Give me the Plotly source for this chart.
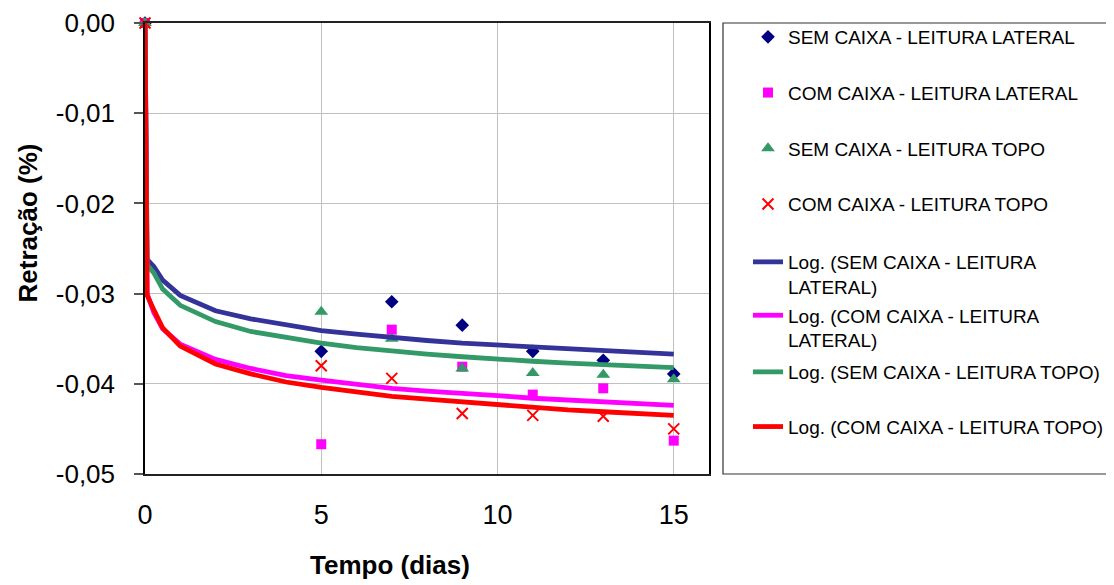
import plotly.graph_objects as go

# ---- data ----
days = [0, 5, 7, 9, 11, 13, 15]
sem_lateral = [0.0, -0.0364, -0.0309, -0.0335, -0.0364, -0.0374, -0.0389]
com_lateral = [0.0, -0.0467, -0.0340, -0.0381, -0.0412, -0.0405, -0.0463]
sem_topo = [0.0, -0.0320, -0.0350, -0.0383, -0.0388, -0.0390, -0.0395]
com_topo = [0.0, -0.0380, -0.0394, -0.0433, -0.0435, -0.0436, -0.0450]

# logarithmic trend lines as drawn in the reference
trend_x = [0, 0.06, 0.25, 0.5, 1, 2, 3, 4, 5, 6, 7, 8, 9, 10, 11, 12, 13, 14, 15]
trend_sem_lateral = [0.0, -0.0262, -0.0270, -0.0285, -0.0302, -0.0319, -0.0328, -0.0335, -0.0341,
                     -0.0345, -0.0349, -0.0352, -0.0355, -0.0357, -0.0360, -0.0362, -0.0364, -0.0365, -0.0367]
trend_com_lateral = [0.0, -0.0300, -0.0321, -0.0339, -0.0356, -0.0373, -0.0383, -0.0391, -0.0396,
                     -0.0401, -0.0405, -0.0408, -0.0410, -0.0413, -0.0416, -0.0418, -0.0420, -0.0422, -0.0424]
trend_sem_topo = [0.0, -0.0268, -0.0277, -0.0295, -0.0313, -0.0331, -0.0342, -0.0349, -0.0355,
                  -0.0360, -0.0364, -0.0367, -0.0370, -0.0373, -0.0375, -0.0377, -0.0379, -0.0381, -0.0382]
trend_com_topo = [0.0, -0.0302, -0.0318, -0.0338, -0.0358, -0.0378, -0.0389, -0.0398, -0.0404,
                  -0.0409, -0.0414, -0.0417, -0.0420, -0.0424, -0.0427, -0.0429, -0.0431, -0.0433, -0.0435]

y_tickvals = [0.0, -0.01, -0.02, -0.03, -0.04, -0.05]
y_ticktext = ["0,00", "-0,01", "-0,02", "-0,03", "-0,04", "-0,05"]
x_tickvals = [0, 5, 10, 15]

names_pts = ["SEM CAIXA - LEITURA LATERAL", "COM CAIXA - LEITURA LATERAL",
             "SEM CAIXA - LEITURA TOPO", "COM CAIXA - LEITURA TOPO"]
names_log = ["Log. (SEM CAIXA - LEITURA<br>LATERAL)", "Log. (COM CAIXA - LEITURA<br>LATERAL)",
             "Log. (SEM CAIXA - LEITURA TOPO)", "Log. (COM CAIXA - LEITURA TOPO)"]

FONT = "Liberation Sans, Arial, sans-serif"
# the page body adds an 8px offset; positions below are reference pixels minus that offset
OFF = 8
W, H = 1114 - OFF, 585 - OFF
L, R, T, B = 145 - OFF, 709 - OFF, 23 - OFF, 474 - OFF

fig = go.Figure()

pt_series = [sem_lateral, com_lateral, sem_topo, com_topo]
pt_styles = [
    dict(symbol="diamond", size=10.5, color="#000080"),
    dict(symbol="square", size=10, color="#FF00FF"),
    dict(symbol="triangle-up", size=12, color="#339966"),
    dict(symbol="x-thin-open", size=11, color="#FF0000", line=dict(color="#FF0000", width=2)),
]
for i, (ys, st) in enumerate(zip(pt_series, pt_styles)):
    fig.add_trace(go.Scatter(x=days, y=ys, mode="markers", name=names_pts[i],
                             marker=st, cliponaxis=False,
                             legend="legend", legendgroup=f"p{i}"))

tr_series = [trend_sem_lateral, trend_com_lateral, trend_sem_topo, trend_com_topo]
tr_colors = ["#333399", "#FF00FF", "#339966", "#FF0000"]
legends_for_lines = ["legend2", "legend2", "legend3", "legend3"]
for i, (ys, c) in enumerate(zip(tr_series, tr_colors)):
    fig.add_trace(go.Scatter(x=trend_x, y=ys, mode="lines", name=names_log[i],
                             line=dict(color=c, width=4.8),
                             legend=legends_for_lines[i], legendgroup=f"l{i}"))

legend_common = dict(xref="container", yref="container", xanchor="left", yanchor="top",
                     bgcolor="rgba(0,0,0,0)", borderwidth=0,
                     font=dict(family=FONT, size=19, color="black"),
                     valign="top", itemclick=False, itemdoubleclick=False)

def ly(px):
    return 1 - (px - OFF) / H

fig.update_layout(
    width=W, height=H,
    margin=dict(l=L, r=W - R, t=T, b=H - B, pad=0, autoexpand=False),
    paper_bgcolor="white", plot_bgcolor="white",
    font=dict(family=FONT, color="black"),
    showlegend=True,
    legend=dict(x=(748 - OFF) / W, y=ly(18), tracegroupgap=28, **legend_common),
    legend2=dict(x=(748 - OFF) / W, y=ly(243), tracegroupgap=1, **legend_common),
    legend3=dict(x=(748 - OFF) / W, y=ly(353), tracegroupgap=27, **legend_common),
    xaxis=dict(range=[0, 16], tickvals=x_tickvals, ticktext=[str(v) for v in x_tickvals],
               showgrid=True, gridcolor="#C0C0C0", gridwidth=1,
               showline=True, linecolor="#222222", linewidth=1.5, mirror=True,
               ticks="", zeroline=False, ticklabelstandoff=16,
               tickfont=dict(family=FONT, size=27, color="black")),
    yaxis=dict(range=[-0.05, 0], tickvals=y_tickvals, ticktext=y_ticktext,
               showgrid=True, gridcolor="#C0C0C0", gridwidth=1,
               showline=True, linecolor="#000000", linewidth=1.5, mirror=True,
               ticks="outside", ticklen=9, tickcolor="#555555", tickwidth=1.5,
               zeroline=False, ticklabelstandoff=14,
               tickfont=dict(family=FONT, size=26, color="black")),
    shapes=[dict(type="rect", xref="paper", yref="paper",
                 x0=(723 - 145) / (709 - 145), x1=(1112 - 145) / (709 - 145), y0=0, y1=1,
                 line=dict(color="#333333", width=1.2), fillcolor="rgba(0,0,0,0)")],
    annotations=[
        dict(text="<b>Tempo (dias)</b>", xref="paper", yref="paper",
             x=(389.5 - 145) / (709 - 145), y=1 - (565 - 23) / (474 - 23),
             xanchor="center", yanchor="middle", showarrow=False,
             font=dict(family=FONT, size=26, color="black")),
        dict(text="<b>Retração (%)</b>", xref="paper", yref="paper",
             x=(27 - 145) / (709 - 145), y=1 - (223.5 - 23) / (474 - 23), textangle=-90,
             xanchor="center", yanchor="middle", showarrow=False,
             font=dict(family=FONT, size=26, color="black")),
    ],
)

fig.write_html("out.html")
